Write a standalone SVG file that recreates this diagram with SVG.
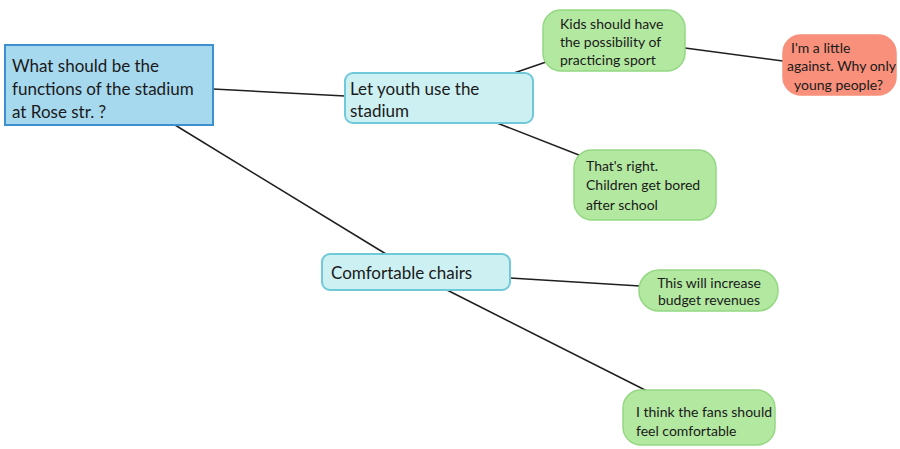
<svg xmlns="http://www.w3.org/2000/svg" width="900" height="449" viewBox="0 0 900 449">
<style>
text{font-family:Lato,"Open Sans","Liberation Sans",sans-serif;fill:#1a1a1a}
.big{font-size:17px}
.sm{font-size:14px}
.conn line{stroke:#1f1f1f;stroke-width:1.5}
.root{fill:#a6d8ee;stroke:#3d8fd0;stroke-width:2}
.topic{fill:#cdf0f2;stroke:#6fc9d9;stroke-width:2}
.green{fill:#b3e8a1;stroke:#94d883;stroke-width:1.5}
.red{fill:#f8907b;stroke:#f8907b;stroke-width:1.5}
</style>
<rect width="900" height="449" fill="#ffffff"/>
<g class="conn" id="connectors">
<line x1="213" y1="89" x2="345" y2="96"/>
<line x1="175" y1="125" x2="386" y2="254"/>
<line x1="514" y1="73" x2="549" y2="61"/>
<line x1="685" y1="48" x2="783" y2="61"/>
<line x1="497" y1="123" x2="584" y2="157"/>
<line x1="510" y1="278" x2="640" y2="286"/>
<line x1="447" y1="290" x2="651" y2="393"/>
</g>
<g id="root">
<rect class="root" x="5" y="45" width="208" height="80"/>
<text class="big" x="12" y="72">What should be the</text>
<text class="big" x="12" y="95">functions of the stadium</text>
<text class="big" x="12" y="118">at Rose str. ?</text>
</g>
<g id="youth">
<rect class="topic" x="345" y="73" width="188" height="50" rx="8"/>
<text class="big" x="350" y="95">Let youth use the</text>
<text class="big" x="350" y="117">stadium</text>
</g>
<g id="kids">
<rect class="green" x="543" y="10" width="142" height="61" rx="18"/>
<text class="sm" x="560" y="29">Kids should have</text>
<text class="sm" x="560" y="47">the possibility of</text>
<text class="sm" x="560" y="65">practicing sport</text>
</g>
<g id="against">
<rect class="red" x="783" y="35" width="113" height="60" rx="18"/>
<text class="sm" x="791" y="53">I'm a little</text>
<text class="sm" x="787" y="71">against. Why only</text>
<text class="sm" x="794" y="90">young people?</text>
</g>
<g id="right">
<rect class="green" x="574" y="150" width="142" height="70" rx="18"/>
<text class="sm" x="586" y="171">That's right.</text>
<text class="sm" x="586" y="190">Children get bored</text>
<text class="sm" x="586" y="210">after school</text>
</g>
<g id="chairs">
<rect class="topic" x="322" y="254" width="188" height="36" rx="8"/>
<text class="big" x="331" y="279">Comfortable chairs</text>
</g>
<g id="revenue">
<rect class="green" x="639" y="270" width="139" height="41" rx="20"/>
<text class="sm" x="709" y="288" text-anchor="middle">This will increase</text>
<text class="sm" x="709" y="305" text-anchor="middle">budget revenues</text>
</g>
<g id="fans">
<rect class="green" x="623" y="390" width="152" height="55" rx="18"/>
<text class="sm" x="636" y="417">I think the fans should</text>
<text class="sm" x="636" y="436">feel comfortable</text>
</g>
</svg>
